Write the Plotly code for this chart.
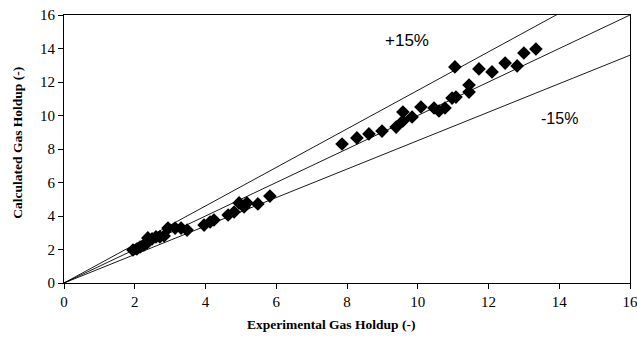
import plotly.graph_objects as go

# Experimental vs. calculated gas holdup (%)
experimental = [
    1.95, 2.06, 2.15, 2.26, 2.35, 2.37, 2.49, 2.60, 2.71, 2.83,
    2.94, 3.14, 3.31, 3.48,
    3.96, 4.13, 4.24, 4.64, 4.81, 4.95, 5.09, 5.17, 5.48, 5.82,
    7.86, 8.28, 8.62, 8.99, 9.39, 9.58, 9.58, 9.84, 10.09, 10.46,
    10.60, 10.77, 10.97, 11.08, 11.05, 11.45, 11.45, 11.73, 12.10,
    12.47, 12.81, 13.00, 13.34,
]
calculated = [
    1.97, 2.03, 2.15, 2.27, 2.39, 2.69, 2.63, 2.75, 2.75, 2.81,
    3.28, 3.28, 3.28, 3.16,
    3.46, 3.64, 3.76, 4.06, 4.24, 4.78, 4.54, 4.78, 4.72, 5.19,
    8.30, 8.66, 8.90, 9.07, 9.31, 10.21, 9.67, 9.91, 10.51, 10.45,
    10.27, 10.45, 11.04, 11.10, 12.90, 11.82, 11.40, 12.78, 12.60,
    13.13, 12.96, 13.73, 13.97,
]

# Parity line and +/-15 % deviation bands
line_x = [0, 16]
band_factors = [1.15, 1.0, 0.85]

SERIF = "Liberation Serif, Times New Roman, serif"
SANS = "Liberation Sans, Arial, sans-serif"

fig = go.Figure()
for f in band_factors:
    fig.add_trace(go.Scatter(
        x=line_x, y=[v * f for v in line_x], mode="lines",
        line=dict(color="black", width=0.9), hoverinfo="skip",
    ))

fig.add_trace(go.Scatter(
    x=experimental, y=calculated, mode="markers",
    marker=dict(symbol="diamond", size=10.5, color="black"),
))

fig.add_annotation(x=9.7, y=14.5, text="+15%", showarrow=False,
                   font=dict(family=SANS, size=17, color="black"))
fig.add_annotation(x=14.0, y=9.85, text="-15%", showarrow=False,
                   font=dict(family=SANS, size=16, color="black"))

# Axis titles
fig.add_annotation(
    x=0.472, xref="paper", y=-0.119, yref="paper",
    yanchor="top", text="<b>Experimental Gas Holdup (-)</b>", showarrow=False,
    font=dict(family=SERIF, size=13.5, color="black"),
)
fig.add_annotation(
    x=-0.082, xref="paper", y=0.522, yref="paper",
    xanchor="center", text="<b>Calculated Gas Holdup (-)</b>", showarrow=False,
    textangle=-90, font=dict(family=SERIF, size=13.5, color="black"),
)

axis_common = dict(
    range=[0, 16], dtick=2, showgrid=False, zeroline=False,
    showline=True, linecolor="black", linewidth=1.2, mirror=True,
    ticks="outside", ticklen=5, tickcolor="black",
    ticklabeloverflow="allow", automargin=False,
    tickfont=dict(family=SERIF, size=15, color="black"),
)

fig.update_layout(
    width=637, height=348,
    margin=dict(l=64, r=7, t=15, b=65, autoexpand=False),
    paper_bgcolor="white", plot_bgcolor="white",
    showlegend=False,
    xaxis=dict(**axis_common),
    yaxis=dict(**axis_common),
)

fig.write_html("out.html")
